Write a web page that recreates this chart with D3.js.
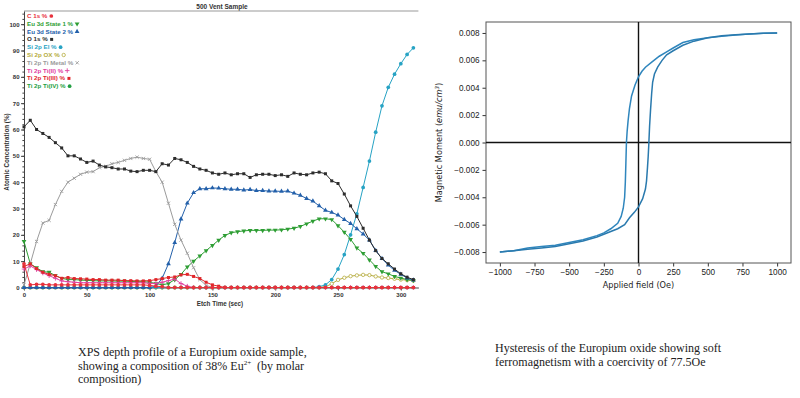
<!DOCTYPE html>
<html>
<head>
<meta charset="utf-8">
<script src="https://cdn.jsdelivr.net/npm/d3@7"></script>
<style>
  body { margin: 0; background: #fff; }
  svg { display: block; }
</style>
</head>
<body>
<div class="canvas"></div>
<script>
// ---- XPS depth profile data (etch time in sec, atomic %) ----
const etchTime = [0, 5, 10, 15, 20, 25, 30, 35, 40, 45,
  50, 55, 60, 65, 70, 75, 80, 85, 90, 95,
  100, 105, 110, 115, 120, 125, 130, 135, 140, 145,
  150, 155, 160, 165, 170, 175, 180, 185, 190, 195,
  200, 205, 210, 215, 220, 225, 230, 235, 240, 245,
  250, 255, 260, 265, 270, 275, 280, 285, 290, 295,
  300, 305, 310];

const c1s = [9, 1, 1.2, 1.2, 1, 1, 1, 1, 1, 1,
  1, 1, 1, 1, 1, 1, 1, 1, 1, 1,
  0.8, 0.5, 0.3, 0, 0, 0, 0, 0, 0, 0,
  0, 0, 0, 0, 0, 0, 0, 0, 0, 0,
  0, 0, 0, 0, 0, 0, 0, 0, 0, 0,
  0, 0, 0, 0, 0, 0, 0, 0, 0, 0,
  0, 0, 0];
const eu3dState1 = [17.5, 9, 7.5, 6, 5.8, 4.5, 3.5, 3, 3, 2.8,
  2.7, 2.6, 2.5, 2.5, 2.5, 2.4, 2.4, 2.3, 2.2, 2.2,
  2, 1.5, 1, 1.5, 3, 5, 7.8, 10, 12, 14,
  16, 18, 19.8, 20.8, 21.2, 21.5, 21.7, 21.7, 21.7, 21.8,
  21.8, 21.9, 22.2, 22.5, 23.2, 24.2, 25.2, 26.1, 26.1, 25.8,
  23.5, 21, 18.3, 15, 13, 10.5, 8, 6, 5.2, 4.2,
  3.6, 3, 2.7];
const eu3dState2 = [0, 0, 0, 0, 0, 0, 0, 0, 0, 0,
  0, 0, 0, 0, 0, 0, 0, 0, 0, 0,
  0, 0.5, 3.5, 9, 17, 26, 32, 36, 37.5, 37.5,
  37.8, 37.7, 37.5, 37.3, 37.3, 37, 37.2, 36.8, 36.8, 36.6,
  36.6, 36.5, 36.6, 35.8, 35, 33.8, 32.8, 31, 29.3, 28.5,
  27.5, 25.8, 24.3, 22.3, 20.3, 18, 14, 11, 8.5, 6.5,
  5, 3.6, 2.8];
const o1s = [61, 63.5, 60, 58.5, 57, 55, 53, 50, 50, 48.8,
  47.5, 48, 46.5, 45.8, 45.5, 45, 45, 44.2, 44, 44.5,
  44.5, 44, 47, 46.5, 49, 48.5, 47.5, 46, 45, 44.5,
  43.5, 43, 43.5, 42.8, 43.2, 43.2, 41.8, 42.8, 43, 43,
  42.5, 42.8, 42.2, 43.5, 43, 42.8, 43.5, 43.8, 43.2, 40.5,
  39.5, 35.5, 31, 27, 22.5, 18, 14, 11, 9, 7,
  5.2, 3.9, 3];
const si2pEl = [0, 0, 0, 0, 0, 0, 0, 0, 0, 0,
  0, 0, 0, 0, 0, 0, 0, 0, 0, 0,
  0, 0, 0, 0, 0, 0, 0, 0, 0, 0,
  0, 0, 0, 0, 0, 0, 0, 0, 0, 0,
  0, 0, 0, 0, 0, 0, 0, 0.3, 1, 3,
  7, 12.5, 20, 28, 38, 48, 59, 69, 76, 81,
  85, 88.5, 91];
const si2pOx = [0, 0, 0, 0, 0, 0, 0, 0, 0, 0,
  0, 0, 0, 0, 0, 0, 0, 0, 0, 0,
  0, 0, 0, 0, 0, 0, 0, 0, 0, 0,
  0, 0, 0, 0, 0, 0, 0, 0, 0, 0,
  0, 0, 0, 0, 0, 0, 0, 0, 0.3, 1.4,
  2.9, 3.7, 4.3, 4.6, 4.8, 4.7, 4.2, 3.8, 3.6, 3.3,
  3, 2.8, 2.6];
const tiMetal = [1, 9, 17.5, 24.5, 25.5, 31.5, 36.5, 40, 41.5, 43,
  43.8, 44, 45.5, 46, 47, 47.5, 48.3, 49, 49.5, 49,
  48.7, 44, 40, 32, 24, 18, 13, 7.5, 3, 0.8,
  0, 0, 0, 0, 0, 0, 0, 0, 0, 0,
  0, 0, 0, 0, 0, 0, 0, 0, 0, 0,
  0, 0, 0, 0, 0, 0, 0, 0, 0, 0,
  0, 0, 0];
const tiII = [7, 8.2, 6.8, 5.5, 4.5, 3.5, 2.5, 2.2, 2, 1.8,
  1.8, 1.8, 1.8, 1.8, 1.8, 1.8, 1.8, 1.8, 1.8, 1.8,
  1.6, 1.5, 2, 2.6, 3.2, 1.5, 0.5, 0, 0, 0,
  0, 0, 0, 0, 0, 0, 0, 0, 0, 0,
  0, 0, 0, 0, 0, 0, 0, 0, 0, 0,
  0, 0, 0, 0, 0, 0, 0, 0, 0, 0,
  0, 0, 0];
const tiIII = [8, 9, 7.2, 5.8, 5, 4.5, 3.5, 3.8, 3.4, 3.3,
  3.2, 3, 3, 2.8, 2.8, 2.8, 2.6, 2.6, 2.5, 2.5,
  2.6, 3, 3.4, 3.8, 4, 4.8, 5, 4.2, 3.4, 2,
  1, 0.5, 0, 0, 0, 0, 0, 0, 0, 0,
  0, 0, 0, 0, 0, 0, 0, 0, 0, 0,
  0, 0, 0, 0, 0, 0, 0, 0, 0, 0,
  0, 0, 0];
const tiIV = [0, 0, 0, 0, 0, 0, 0, 0, 0, 0,
  0, 0, 0, 0, 0, 0, 0, 0, 0, 0,
  0, 0, 0, 0, 0, 0, 0, 0, 0, 0,
  0, 0, 0, 0, 0, 0, 0, 0, 0, 0,
  0, 0, 0, 0, 0, 0, 0, 0, 0, 0,
  0, 0, 0, 0, 0, 0, 0, 0, 0, 0,
  0, 0, 0];

const xpsYTicks = [0, 10, 20, 30, 40, 50, 60, 70, 80, 90, 100];
const xpsXTicks = [0, 50, 100, 150, 200, 250, 300];

// ---- hysteresis loop (field in Oe, moment in emu/cm^3) ----
const descField = [1000, 900, 800, 700, 600, 500, 400, 320, 250, 200, 150, 100, 50, 25, 0,
  -25, -50, -65, -75, -82, -87, -91, -95, -100, -110, -125, -150, -200, -250, -300,
  -400, -500, -600, -700, -800, -900, -1000];
const descMoment = [0.0080, 0.00797, 0.00792, 0.00785, 0.00775, 0.00765, 0.0075, 0.0073, 0.0069, 0.0066, 0.0063, 0.0059, 0.0055, 0.0052, 0.0048,
  0.0042, 0.0034, 0.0025, 0.0016, 0.0008, 0.0, -0.0015, -0.0029, -0.0040, -0.0048, -0.0054, -0.0059, -0.0063, -0.0066, -0.0068,
  -0.0071, -0.0073, -0.0075, -0.0076, -0.0077, -0.0079, -0.0080];
const ascField = [-1000, -900, -800, -700, -600, -500, -400, -300, -250, -200, -150, -100, -65, -30, 0,
  30, 50, 58, 65, 70, 74, 80, 87, 95, 102, 115, 138, 170, 203, 250,
  320, 400, 500, 600, 700, 800, 900, 1000];
const ascMoment = [-0.0080, -0.0079, -0.0078, -0.0077, -0.0076, -0.0074, -0.0072, -0.0069, -0.0067, -0.0065, -0.0063, -0.0060, -0.0055, -0.0051, -0.0047,
  -0.0041, -0.0034, -0.0028, -0.0018, -0.0010, -0.0002, 0.0012, 0.0024, 0.0036, 0.0044, 0.0050, 0.0055, 0.0060, 0.0064, 0.0067,
  0.0071, 0.0074, 0.00765, 0.0078, 0.00787, 0.00793, 0.00797, 0.0080];

const fieldTicks = [-1000, -750, -500, -250, 0, 250, 500, 750, 1000];
const momentTicks = [-0.008, -0.006, -0.004, -0.002, 0, 0.002, 0.004, 0.006, 0.008];

// svg container
const svg = d3.select('.canvas')
  .append('svg')
  .attr('width', 800)
  .attr('height', 398);

// ================= left chart: XPS depth profile =================
const xps = svg.append('g')
  .attr('font-family', '"Liberation Sans", Arial, sans-serif')
  .attr('font-weight', 'bold');

const x1 = d3.scaleLinear().domain([0, 314]).range([24, 418.4]);
const y1 = d3.scaleLinear().domain([0, 105]).range([287.5, 11]);

// title and top rule
xps.append('text')
  .attr('x', 222).attr('y', 9)
  .attr('text-anchor', 'middle')
  .attr('font-size', 6.5)
  .attr('fill', '#333')
  .text('500 Vent Sample');
xps.append('line')
  .attr('x1', x1(0)).attr('x2', x1(314))
  .attr('y1', y1(105)).attr('y2', y1(105))
  .attr('stroke', '#999').attr('stroke-width', 1);

// minor ticks
xps.append('g')
  .attr('transform', `translate(${x1(0)},0)`)
  .call(d3.axisLeft(y1).tickValues(d3.range(0, 105, 2)).tickSize(1.6).tickFormat(''))
  .call(g => g.select('.domain').remove())
  .selectAll('line').attr('stroke', '#444');
xps.append('g')
  .attr('transform', `translate(0,${y1(0)})`)
  .call(d3.axisBottom(x1).tickValues(d3.range(0, 314, 10)).tickSize(1.6).tickFormat(''))
  .call(g => g.select('.domain').remove())
  .selectAll('line').attr('stroke', '#444');

// major axes
const yAxis1 = xps.append('g')
  .attr('transform', `translate(${x1(0)},0)`)
  .call(d3.axisLeft(y1).tickValues(xpsYTicks).tickSize(3).tickPadding(1.5).tickSizeOuter(0));
const xAxis1 = xps.append('g')
  .attr('transform', `translate(0,${y1(0)})`)
  .call(d3.axisBottom(x1).tickValues(xpsXTicks).tickSize(3).tickPadding(2).tickSizeOuter(0));
[yAxis1, xAxis1].forEach(g => {
  g.selectAll('text').attr('font-size', 6).attr('font-family', null).attr('font-weight', 'bold').attr('fill', '#333');
  g.selectAll('line, path').attr('stroke', '#444');
});

xps.append('text')
  .attr('x', 220).attr('y', 306)
  .attr('text-anchor', 'middle')
  .attr('font-size', 6.3)
  .attr('fill', '#333')
  .text('Etch Time (sec)');
xps.append('text')
  .attr('transform', 'translate(9,152) rotate(-90)')
  .attr('text-anchor', 'middle')
  .attr('font-size', 6.3)
  .attr('fill', '#333')
  .text('Atomic Concentration (%)');

// series definitions (legend order)
const series = [
  { name: 'C 1s %', values: c1s, color: '#e8323c', mark: 'circle' },
  { name: 'Eu 3d State 1 %', values: eu3dState1, color: '#2e9e34', mark: 'triDown' },
  { name: 'Eu 3d State 2 %', values: eu3dState2, color: '#2360aa', mark: 'triUp' },
  { name: 'O 1s %', values: o1s, color: '#2d2d2d', mark: 'square' },
  { name: 'Si 2p El %', values: si2pEl, color: '#27a3c4', mark: 'circle' },
  { name: 'Si 2p OX %', values: si2pOx, color: '#b5ab3c', mark: 'ring' },
  { name: 'Ti 2p Ti Metal %', values: tiMetal, color: '#9b9b9b', mark: 'times' },
  { name: 'Ti 2p Ti(II) %', values: tiII, color: '#e0409e', mark: 'plus' },
  { name: 'Ti 2p Ti(III) %', values: tiIII, color: '#e0262a', mark: 'square' },
  { name: 'Ti 2p Ti(IV) %', values: tiIV, color: '#23a043', mark: 'circle' }
];

const drawMark = (sel, mark, color) => {
  const shapes = {
    circle: [d3.symbolCircle, 11], ring: [d3.symbolCircle, 9], square: [d3.symbolSquare, 9],
    triUp: [d3.symbolTriangle, 10], triDown: [d3.symbolTriangle, 10],
    times: [d3.symbolTimes, 8], plus: [d3.symbolPlus, 8]
  };
  const [type, size] = shapes[mark];
  const p = sel.append('path').attr('d', d3.symbol().type(type).size(size)());
  if (mark === 'triDown') p.attr('transform', 'rotate(180)');
  if (mark === 'times' || mark === 'plus') p.attr('fill', 'none').attr('stroke', color).attr('stroke-width', 0.9);
  else if (mark === 'ring') p.attr('fill', '#fff').attr('stroke', color).attr('stroke-width', 0.8);
  else p.attr('fill', color);
};

const line1 = d3.line()
  .x((d, i) => x1(etchTime[i]))
  .y(d => y1(d));

const drawOrder = [9, 5, 4, 1, 2, 6, 3, 7, 8, 0];
drawOrder.forEach(k => {
  const s = series[k];
  const g = xps.append('g');
  g.append('path')
    .datum(s.values)
    .attr('fill', 'none')
    .attr('stroke', s.color)
    .attr('stroke-width', 1)
    .attr('d', line1);
  s.values.forEach((v, i) => {
    const m = g.append('g').attr('transform', `translate(${x1(etchTime[i])},${y1(v)})`);
    drawMark(m, s.mark, s.color);
  });
});

// legend
const legend = xps.append('g').attr('transform', 'translate(27,18)');
series.forEach((s, i) => {
  const row = legend.append('g').attr('transform', `translate(0,${i * 7.8})`);
  const t = row.append('text')
    .attr('font-size', 6.2)
    .attr('fill', s.color)
    .text(s.name);
  const w = t.node().getComputedTextLength();
  const m = row.append('g').attr('transform', `translate(${w + 4},-2)`);
  drawMark(m, s.mark, s.color);
});

// ================= right chart: hysteresis loop =================
const mag = svg.append('g')
  .attr('font-family', '"DejaVu Sans", sans-serif');

const x2 = d3.scaleLinear().domain([-1100, 1100]).range([486, 791]);
const y2 = d3.scaleLinear().domain([-0.0088, 0.0088]).range([263, 22]);

const xAxis2 = mag.append('g')
  .attr('transform', `translate(0,${y2(-0.0088)})`)
  .call(d3.axisBottom(x2).tickValues(fieldTicks).tickSize(3.5).tickPadding(3)
    .tickSizeOuter(0).tickFormat(d => d3.format('d')(d).replace('-', '\u2212')));
const yAxis2 = mag.append('g')
  .attr('transform', `translate(${x2(-1100)},0)`)
  .call(d3.axisLeft(y2).tickValues(momentTicks).tickSize(3.5).tickPadding(3)
    .tickSizeOuter(0).tickFormat(d => d3.format('.3f')(d).replace('-', '\u2212')));
[xAxis2, yAxis2].forEach(g => {
  g.selectAll('text').attr('font-size', 8.2).attr('font-family', null).attr('fill', '#222');
  g.selectAll('line').attr('stroke', '#333');
  g.select('.domain').remove();
});

// frame
mag.append('rect')
  .attr('x', x2(-1100)).attr('y', y2(0.0088))
  .attr('width', x2(1100) - x2(-1100))
  .attr('height', y2(-0.0088) - y2(0.0088))
  .attr('fill', 'none')
  .attr('stroke', '#555')
  .attr('stroke-width', 1);

// zero lines
mag.append('line')
  .attr('x1', x2(-1100)).attr('x2', x2(1100))
  .attr('y1', y2(0)).attr('y2', y2(0))
  .attr('stroke', '#111').attr('stroke-width', 1.4);
mag.append('line')
  .attr('x1', x2(0)).attr('x2', x2(0))
  .attr('y1', y2(0.0088)).attr('y2', y2(-0.0088))
  .attr('stroke', '#111').attr('stroke-width', 1.4);

const line2 = d3.line()
  .x(d => x2(d[0]))
  .y(d => y2(d[1]));

mag.append('path')
  .datum(descField.map((h, i) => [h, descMoment[i]]))
  .attr('fill', 'none')
  .attr('stroke', '#2f86bd')
  .attr('stroke-width', 1.5)
  .attr('d', line2);
mag.append('path')
  .datum(ascField.map((h, i) => [h, ascMoment[i]]))
  .attr('fill', 'none')
  .attr('stroke', '#2a7aae')
  .attr('stroke-width', 1.5)
  .attr('d', line2);

mag.append('text')
  .attr('x', x2(0)).attr('y', 288)
  .attr('text-anchor', 'middle')
  .attr('font-size', 8.2)
  .attr('fill', '#222')
  .text('Applied field (Oe)');

const yLabel = mag.append('text')
  .attr('transform', `translate(442,${y2(0)}) rotate(-90)`)
  .attr('text-anchor', 'middle')
  .attr('font-size', 8.2)
  .attr('fill', '#222');
yLabel.append('tspan').text('Magnetic Moment (');
yLabel.append('tspan').attr('font-style', 'italic').text('emu/cm');
yLabel.append('tspan').attr('font-style', 'italic').attr('font-size', 5.5).attr('dy', -3.5).text('3');
yLabel.append('tspan').attr('dy', 3.5).text(')');

// ================= captions =================
const caps = svg.append('g')
  .attr('font-family', '"Liberation Serif", "Times New Roman", serif')
  .attr('font-size', 12)
  .attr('fill', '#222');

caps.append('text').attr('x', 78).attr('y', 356)
  .text('XPS depth profile of a Europium oxide sample,');
const cap2 = caps.append('text').attr('x', 78).attr('y', 369.5);
cap2.append('tspan').text('showing a composition of 38% Eu');
cap2.append('tspan').attr('font-size', 7).attr('dy', -4.5).text('2+');
cap2.append('tspan').attr('dy', 4.5).text('\u00a0 (by molar');
caps.append('text').attr('x', 78).attr('y', 383)
  .text('composition)');

caps.append('text').attr('x', 495).attr('y', 352)
  .text('Hysteresis of the Europium oxide showing soft');
caps.append('text').attr('x', 495).attr('y', 365.5)
  .text('ferromagnetism with a coercivity of 77.5Oe');
</script>
</body>
</html>
